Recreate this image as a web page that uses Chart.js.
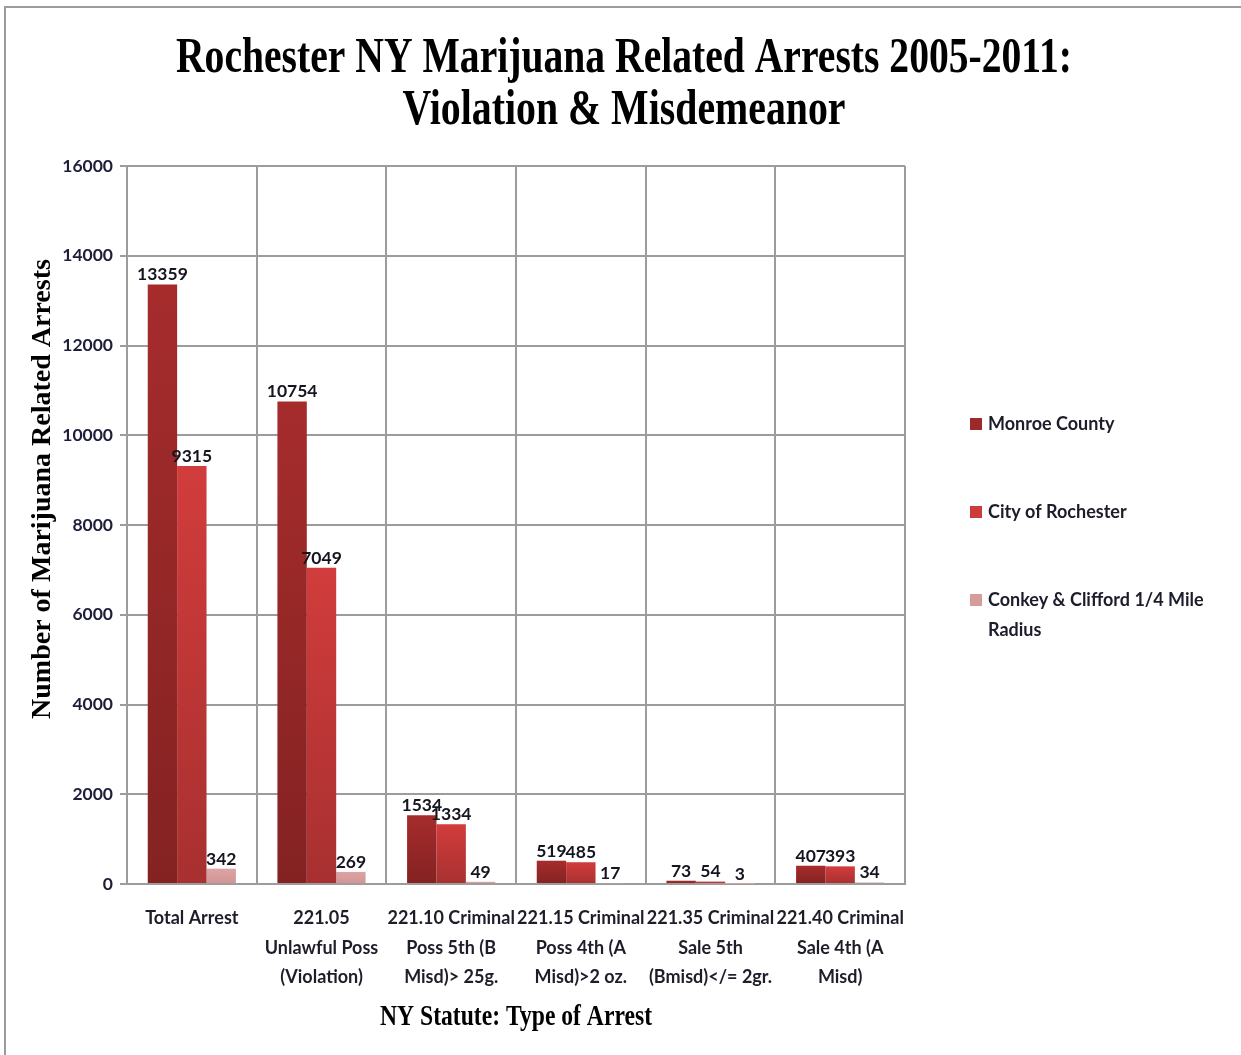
<!DOCTYPE html>
<html>
<head>
<meta charset="utf-8">
<title>Rochester NY Marijuana Related Arrests 2005-2011</title>
<script src="https://cdn.jsdelivr.net/npm/chart.js@4/dist/chart.umd.min.js"></script>
<style>
  html, body { margin: 0; padding: 0; background: #ffffff; }
  #wrap { width: 1241px; height: 1055px; }
</style>
</head>
<body>
<div id="wrap"><canvas id="chart" width="1241" height="1055"></canvas></div>
<script>
// Arrest categories (NY statute), one multi-line label per group
const categories = [
  ["Total Arrest"],
  ["221.05", "Unlawful Poss", "(Violation)"],
  ["221.10 Criminal", "Poss 5th (B", "Misd)> 25g."],
  ["221.15 Criminal", "Poss 4th (A", "Misd)>2 oz."],
  ["221.35 Criminal", "Sale 5th", "(Bmisd)</= 2gr."],
  ["221.40 Criminal", "Sale 4th (A", "Misd)"]
];

// Arrest counts 2005-2011 per area
const monroeCounty    = [13359, 10754, 1534, 519, 73, 407];
const cityOfRochester = [9315, 7049, 1334, 485, 54, 393];
const conkeyClifford  = [342, 269, 49, 17, 3, 34];

const seriesNames = ["Monroe County", "City of Rochester", "Conkey & Clifford 1/4 Mile Radius"];
const yTicks = [0, 2000, 4000, 6000, 8000, 10000, 12000, 14000, 16000];

const titleLines = ["Rochester NY Marijuana Related Arrests 2005-2011:", "Violation & Misdemeanor"];
const yTitle = "Number of Marijuana Related Arrests";
const xTitle = "NY Statute: Type of Arrest";

const SANS = "Lato, 'Open Sans', sans-serif";
const SERIF = "'Liberation Serif', 'DejaVu Serif', serif";

// Per-bar vertical gradient: lighter at the top of each bar, darker at its base
function barGradient(topColor, bottomColor) {
  return (ctx) => {
    const chart = ctx.chart;
    const ys = chart.scales.y;
    if (!chart.chartArea || !ys || ctx.raw === undefined) return topColor;
    const top = ys.getPixelForValue(ctx.raw);
    const base = ys.getPixelForValue(0);
    if (!isFinite(top) || !isFinite(base) || base - top < 1) return topColor;
    const g = chart.ctx.createLinearGradient(0, top, 0, base);
    g.addColorStop(0, topColor);
    g.addColorStop(1, bottomColor);
    return g;
  };
}

const legendColors = ["#9b2a2a", "#cf3a3a", "#d69c9c"];

// Grey frame around the chart
const framePlugin = {
  id: 'frame',
  beforeDraw(chart) {
    const c = chart.ctx;
    c.save();
    c.fillStyle = '#ffffff';
    c.fillRect(0, 0, chart.width, chart.height);
    c.strokeStyle = '#9c9c9c';
    c.lineWidth = 2;
    c.beginPath();
    c.moveTo(5, chart.height);
    c.lineTo(5, 7);
    c.lineTo(chart.width, 7);
    c.stroke();
    c.restore();
  }
};

// Value labels above each bar
const valueLabelPlugin = {
  id: 'valueLabels',
  afterDatasetsDraw(chart) {
    const c = chart.ctx;
    c.save();
    c.font = "bold 17.5px " + SANS;
    c.fillStyle = '#151520';
    c.textAlign = 'center';
    c.textBaseline = 'bottom';
    chart.data.datasets.forEach((ds, i) => {
      const meta = chart.getDatasetMeta(i);
      meta.data.forEach((bar, j) => {
        c.fillText(String(ds.data[j]), bar.x, bar.y - 1);
      });
    });
    c.restore();
  }
};

// Titles (condensed serif) and the wrapped legend on the right
const textPlugin = {
  id: 'texts',
  afterDraw(chart) {
    const c = chart.ctx;
    const area = chart.chartArea;
    c.save();
    c.fillStyle = '#000000';
    c.textAlign = 'center';
    c.textBaseline = 'alphabetic';

    // Main title
    c.font = "bold 50px " + SERIF;
    c.fillText(titleLines[0], 624, 72, 896);
    c.fillText(titleLines[1], 624, 124, 443);

    // X axis title
    c.font = "bold 30px " + SERIF;
    c.fillText(xTitle, (area.left + area.right) / 2, 1025, 272);

    // Y axis title
    c.save();
    c.translate(50, 489);
    c.rotate(-Math.PI / 2);
    c.font = "bold 28px " + SERIF;
    c.fillText(yTitle, 0, 0, 478);
    c.restore();

    // Legend
    const legendX = 970;
    const textX = 988;
    const rowY = [424, 512, 600];
    const wrapWidth = 225;
    const lineH = 30;
    c.font = "bold 18px " + SANS;
    c.textAlign = 'left';
    c.textBaseline = 'middle';
    seriesNames.forEach((name, i) => {
      c.fillStyle = legendColors[i];
      c.fillRect(legendX, rowY[i] - 6, 12, 12);
      c.fillStyle = '#1c1c2a';
      const words = name.split(' ');
      const lines = [];
      let cur = '';
      words.forEach(w => {
        const test = cur ? cur + ' ' + w : w;
        if (cur && c.measureText(test).width > wrapWidth) {
          lines.push(cur);
          cur = w;
        } else {
          cur = test;
        }
      });
      if (cur) lines.push(cur);
      lines.forEach((ln, k) => c.fillText(ln, textX, rowY[i] + k * lineH));
    });
    c.restore();
  }
};

new Chart(document.getElementById('chart'), {
  type: 'bar',
  data: {
    labels: categories,
    datasets: [
      { label: seriesNames[0], data: monroeCounty,    backgroundColor: barGradient('#a62c2c', '#842222') },
      { label: seriesNames[1], data: cityOfRochester, backgroundColor: barGradient('#d23c3c', '#a83030') },
      { label: seriesNames[2], data: conkeyClifford,  backgroundColor: barGradient('#dca4a4', '#d39494') }
    ]
  },
  options: {
    responsive: false,
    animation: false,
    devicePixelRatio: 1,
    layout: { padding: { top: 166, right: 336, bottom: 0, left: 0 } },
    datasets: {
      bar: { categoryPercentage: 0.68, barPercentage: 1.0, borderWidth: 0 }
    },
    plugins: {
      legend: { display: false },
      title: { display: false },
      tooltip: { enabled: false }
    },
    scales: {
      x: {
        grid: { color: '#9c9c9c', lineWidth: 2, drawTicks: false, offset: true },
        border: { color: '#9c9c9c', width: 2 },
        ticks: {
          color: '#1e1e2a',
          font: { family: SANS, size: 18, weight: 'bold', lineHeight: 1.62 },
          padding: 20,
          maxRotation: 0,
          autoSkip: false
        },
        afterFit(scale) { scale.height = 171; }
      },
      y: {
        min: 0,
        max: 16000,
        afterBuildTicks(scale) { scale.ticks = yTicks.map(v => ({ value: v })); },
        grid: { color: '#9c9c9c', lineWidth: 2, tickLength: 7 },
        border: { color: '#9c9c9c', width: 2 },
        ticks: {
          color: '#1e1e3a',
          font: { family: SANS, size: 17.5, weight: 'bold' },
          padding: 7,
          callback: (v) => String(v)
        },
        afterFit(scale) { scale.width = 127; }
      }
    }
  },
  plugins: [framePlugin, valueLabelPlugin, textPlugin]
});
</script>
</body>
</html>
